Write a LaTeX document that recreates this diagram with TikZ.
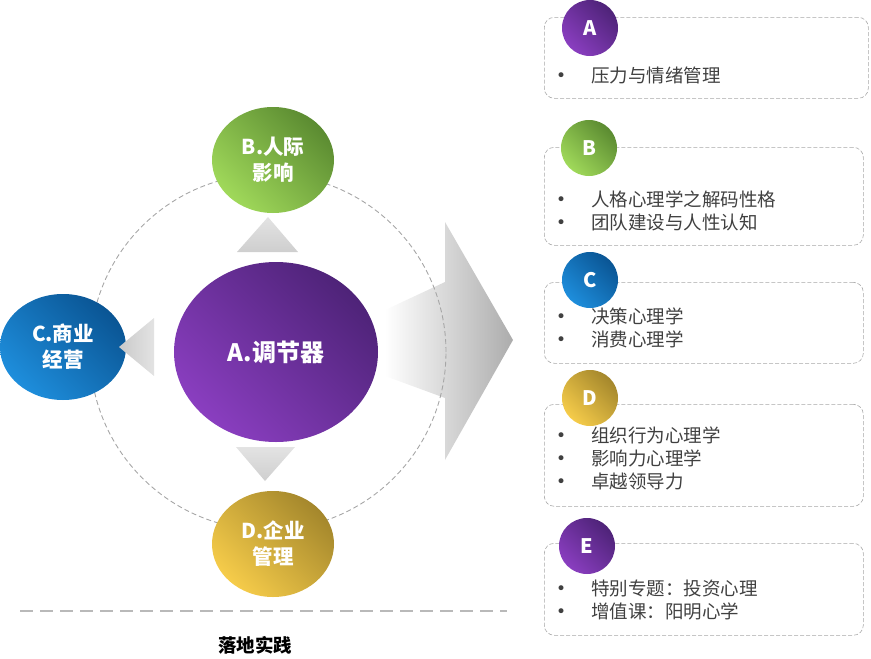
\documentclass[tikz,border=0pt]{standalone}
\usepackage{fontspec}
\setmainfont{Noto Sans CJK SC}
\newfontfamily\symfont{DejaVu Sans}
\usetikzlibrary{shapes.geometric,positioning}

\definecolor{purpleL}{HTML}{8A3EC0}
\definecolor{purpleD}{HTML}{4E2378}
\definecolor{greenL}{HTML}{A0D95A}
\definecolor{greenD}{HTML}{5B8B31}
\definecolor{blueL}{HTML}{1E8EDC}
\definecolor{blueD}{HTML}{0A5594}
\definecolor{goldL}{HTML}{F6CC4A}
\definecolor{goldD}{HTML}{A4872C}
\definecolor{itemgray}{HTML}{404040}
\definecolor{linegray}{HTML}{A8A8A8}

\newcommand{\bul}{\makebox[35pt][l]{\raisebox{1pt}{\symfont\fontsize{17}{17}\selectfont •}}}

\begin{document}
\begin{tikzpicture}[x=1pt, y=-1pt,
    tone/.style 2 args={top color=#2, bottom color=#1, shading angle=-45},
    petal/.style={ellipse, inner sep=0pt, align=center, text=white, font=\bfseries\fontsize{20.5}{26}\selectfont, minimum width=122pt, minimum height=106pt},
    hub/.style={petal, minimum width=204pt, minimum height=180pt, font=\bfseries\fontsize{24}{28}\selectfont},
    badge/.style={circle, inner sep=0pt, minimum size=56pt, text=white, font=\bfseries\fontsize{20}{20}\selectfont},
    card/.style={draw=linegray, dashed, dash pattern=on 4pt off 2pt, rounded corners=10pt, line width=0.6pt, anchor=north west, minimum width=319pt},
    items/.style={anchor=west, inner sep=0pt, align=left, text=itemgray, font=\fontsize{18.5}{23}\selectfont},
    hint/.style={top color=gray!22, bottom color=gray!38},
    ring/.style={draw=gray!70, dash pattern=on 5pt off 3pt, line width=0.9pt}
  ]
    \useasboundingbox (0,0) rectangle (871,659);

    % big arrow towards the cards
    \shade[left color=white, right color=gray!65]
      (385,310) -- (445,282) -- (445,222) -- (513,340) -- (445,460) -- (445,398) -- (385,376) -- cycle;

    \draw[ring] (268,352) circle [radius=178pt];

    \node[hub, tone={purpleL}{purpleD}] (hub) at (276,352) {A.调节器};
    \node[petal, tone={greenL}{greenD}] (b) at (273,160) {B.人际\\影响};
    \node[petal, tone={blueL}{blueD}, minimum width=126pt] (c) at (63,347) {C.商业\\经营};
    \node[petal, tone={goldL}{goldD}] (d) at (273,544) {D.企业\\管理};

    % small pointers
    \shade[hint] (237,252) -- (268,217) -- (298,252) -- cycle;
    \shade[hint] (236,447) -- (265,481) -- (295,447) -- cycle;
    \shade[hint, left color=gray!42, right color=gray!22] (154,318) -- (119,347) -- (154,376) -- cycle;

    % cards
    \node[card, minimum width=324pt, minimum height=81pt] (cardA) at (544,17) {};
    \node[card, minimum height=98pt] (cardB) at (544,147) {};
    \node[card, minimum height=81pt] (cardC) at (544,282) {};
    \node[card, minimum height=102pt] (cardD) at (544,404) {};
    \node[card, minimum height=92pt] (cardE) at (544,543) {};

    \node[badge, tone={purpleL}{purpleD}] (badgeA) at (590,28) {A};
    \node[badge, tone={greenL}{greenD}] (badgeB) at (589,148) {B};
    \node[badge, tone={blueL}{blueD}] (badgeC) at (590,280) {C};
    \node[badge, tone={goldL}{goldD}] (badgeD) at (590,398) {D};
    \node[badge, tone={purpleL}{purpleD}] (badgeE) at (587,546) {E};

    \node[items] (itemsA) at (556,75) {\bul 压力与情绪管理};
    \node[items] (itemsB) at (556,211) {\bul 人格心理学之解码性格\\\bul 团队建设与人性认知};
    \node[items] (itemsC) at (556,328) {\bul 决策心理学\\\bul 消费心理学};
    \node[items] (itemsD) at (556,458) {\bul 组织行为心理学\\\bul 影响力心理学\\\bul 卓越领导力};
    \node[items] (itemsE) at (556,600) {\bul 特别专题：投资心理\\\bul 增值课：阳明心学};

    % bottom rule and caption
    \draw[draw=gray!55, line width=2pt, dash pattern=on 13pt off 7pt] (20,611) -- (507,611);
    \node[font=\bfseries\fontsize{18.5}{20}\selectfont] (practice) at (255,645) {落地实践};
  \end{tikzpicture}
\end{document}
